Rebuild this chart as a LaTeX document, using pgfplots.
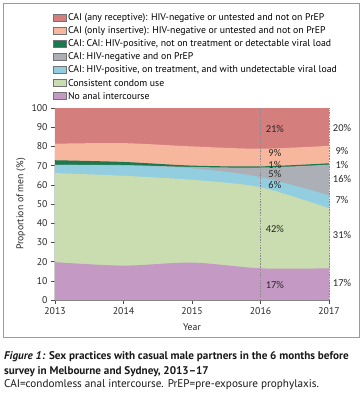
\documentclass[border=0pt]{standalone}
\usepackage{fontspec}
\setmainfont{PT Sans}
\newfontfamily\lab{Carlito}
\usepackage{pgfplots}
\pgfplotsset{compat=1.18}
\definecolor{cRed}{RGB}{213,126,126}
\definecolor{cPeach}{RGB}{246,183,158}
\definecolor{cDkGreen}{RGB}{28,120,78}
\definecolor{cGrey}{RGB}{172,176,182}
\definecolor{cBlue}{RGB}{146,205,224}
\definecolor{cGreen}{RGB}{201,221,176}
\definecolor{cPurple}{RGB}{196,154,196}
\definecolor{frameCol}{RGB}{200,130,165}
\begin{document}
\begin{tikzpicture}
\path[use as bounding box] (0,0) rectangle (363bp,-396bp);
\draw[frameCol, line width=0.8bp] (3bp,-3bp) rectangle (359bp,-337bp);
\begin{axis}[
  at={(55bp,-300bp)}, anchor=south west,
  scale only axis, width=274bp, height=192bp,
  xmin=2013, xmax=2017, ymin=0, ymax=100,
  xtick={2013,2014,2015,2016,2017}, ytick={0,10,...,100},
  axis x line*=bottom, axis y line*=left,
  axis line style={-, draw=black!70, line width=0.6bp},
  tick align=outside, major tick length=4bp,
  tick style={draw=black!70, line width=0.6bp},
  /pgf/number format/1000 sep={},
  /pgf/number format/assume math mode=true,
  ticklabel style={font=\fontsize{9.8}{11}\selectfont, text=black!85},
  xlabel={Year}, ylabel={Proportion of men (\%)},
  label style={font=\fontsize{9.8}{11}\selectfont, text=black!85},
  xlabel style={at={(axis description cs:0.5,-0.14)}, anchor=center},
  ylabel style={at={(axis description cs:-0.124,0.5)}, anchor=center},
  clip=false,
  legend cell align=left,
  legend style={at={(-0.0073,1.505)}, anchor=north west, draw=none, fill=none,
    inner sep=0pt, row sep=0pt,
    font=\fontsize{9.8}{12}\selectfont,
    nodes={inner xsep=1.5bp, inner ysep=1.3bp, text height=8bp, text depth=2.5bp}},
  legend image code/.code={\draw[#1, draw=black!55, line width=0.4bp] (0bp,-3bp) rectangle (13bp,3.8bp);},
]
\addplot[fill=cRed, draw=none, smooth] coordinates {(2013,100) (2014,100) (2015,100) (2016,100) (2017,100)} \closedcycle;
\addlegendentry{CAI (any receptive): HIV-negative or untested and not on PrEP}
\addplot[fill=cPeach, draw=none, smooth] coordinates {(2013,81.4) (2014,81.7) (2015,80.0) (2016,78.8) (2017,80.3)} \closedcycle;
\addlegendentry{CAI (only insertive): HIV-negative or untested and not on PrEP}
\addplot[fill=cDkGreen, draw=none, smooth] coordinates {(2013,72.8) (2014,71.9) (2015,70.0) (2016,69.6) (2017,71.2)} \closedcycle;
\addlegendentry{CAI: CAI: HIV-positive, not on treatment or detectable viral load}
\addplot[fill=cGrey, draw=none, smooth] coordinates {(2013,70.4) (2014,70.3) (2015,69.3) (2016,69.0) (2017,70.5)} \closedcycle;
\addlegendentry{CAI: HIV-negative and on PrEP}
\addplot[fill=cBlue, draw=none, smooth] coordinates {(2013,70.4) (2014,70.0) (2015,68.6) (2016,64.0) (2017,54.5)} \closedcycle;
\addlegendentry{CAI: HIV-positive, on treatment, and with undetectable viral load}
\addplot[fill=cGreen, draw=none, smooth] coordinates {(2013,66.1) (2014,64.7) (2015,62.6) (2016,58.7) (2017,47.8)} \closedcycle;
\addlegendentry{Consistent condom use}
\addplot[fill=cPurple, draw=none, smooth] coordinates {(2013,19.7) (2014,17.9) (2015,19.5) (2016,16.5) (2017,16.5)} \closedcycle;
\addlegendentry{No anal intercourse}
\draw[black!45, dash pattern=on 1.5bp off 1.2bp, line width=0.7bp] (axis cs:2016,0) -- (axis cs:2016,100);
\draw[black!45, dash pattern=on 1.5bp off 1.2bp, line width=0.7bp] (axis cs:2017,0) -- (axis cs:2017,100);
\begin{scope}[every node/.style={font=\lab\fontsize{10.5}{12}\selectfont, text=black!85}]
\node at (axis cs:2016.21,89) {21\%};
\node at (axis cs:2016.21,76.8) {9\%};
\node at (axis cs:2016.21,70.4) {1\%};
\node at (axis cs:2016.21,65.7) {5\%};
\node at (axis cs:2016.21,60) {6\%};
\node at (axis cs:2016.21,37) {42\%};
\node at (axis cs:2016.21,7.8) {17\%};
\node at (axis cs:2017.19,89.5) {20\%};
\node at (axis cs:2017.19,77.4) {9\%};
\node at (axis cs:2017.19,70.4) {1\%};
\node at (axis cs:2017.19,63) {16\%};
\node at (axis cs:2017.19,52.2) {7\%};
\node at (axis cs:2017.19,33.9) {31\%};
\node at (axis cs:2017.19,8.7) {17\%};
\end{scope}
\end{axis}
\begin{scope}[every node/.style={anchor=base west, inner sep=0pt, font=\fontsize{11.2}{12}\selectfont, text=black!90}]
\node at (4bp,-359bp) {\bfseries\itshape Figure 1: \upshape Sex practices with casual male partners in the 6 months before};
\node at (4bp,-374bp) {\bfseries survey in Melbourne and Sydney, 2013–17};
\node at (4bp,-387.5bp) {CAI=condomless anal intercourse. PrEP=pre-exposure prophylaxis.};
\end{scope}
\end{tikzpicture}
\end{document}
